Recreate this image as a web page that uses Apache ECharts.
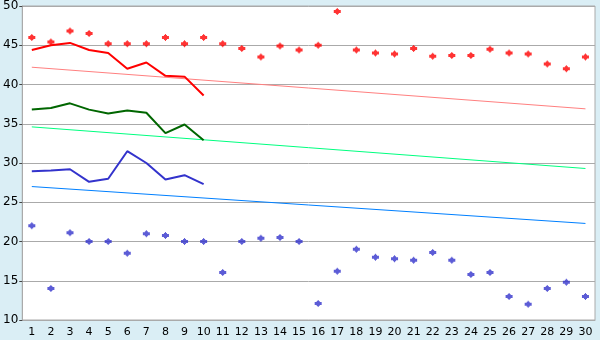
<!DOCTYPE html>
<html><head><meta charset="utf-8">
<script src="https://cdn.jsdelivr.net/npm/echarts@6/dist/echarts.min.js"></script>
<style>html,body{margin:0;padding:0;background:#daeef5;}#c{width:600px;height:340px;}</style>
</head><body><div id="c"></div>
<script>
var categories = ["1","2","3","4","5","6","7","8","9","10","11","12","13","14","15","16","17","18","19","20","21","22","23","24","25","26","27","28","29","30"];
var redPoints = [46.0,45.4,46.8,46.5,45.2,45.2,45.2,46.0,45.2,46.0,45.2,44.6,43.5,44.9,44.4,45.0,49.3,44.4,44.0,43.9,44.6,43.6,43.7,43.7,44.5,44.0,43.9,42.6,42.0,43.5];
var bluePoints = [22.0,14.0,21.1,20.0,20.0,18.5,21.0,20.75,20.0,20.0,16.05,20.0,20.4,20.5,20.0,12.1,16.2,19.0,18.0,17.8,17.6,18.6,17.6,15.8,16.05,13.0,12.0,14.0,14.8,13.0];
var redLine = [44.4,45.0,45.3,44.4,44.0,42.0,42.8,41.1,41.0,38.6];
var greenLine = [36.8,37.0,37.6,36.8,36.3,36.7,36.4,33.8,34.9,32.9];
var blueLine = [28.96,29.05,29.2,27.6,28.0,31.5,30.0,27.9,28.45,27.3];
var redTrend = [42.2, 36.9];   // values at day 1 and day 30
var greenTrend = [34.6, 29.3];
var blueTrend = [27.0, 22.3];
var yTicks = {min:10, max:50, interval:5};

function trendData(ends){
  var d = categories.map(function(){return null;});
  d[0] = ends[0]; d[categories.length-1] = ends[1];
  return d;
}
var marker = 'path://M3,0 H4 V1 H5 V2 H7 V5 H5 V6 H4 V7 H3 V6 H2 V5 H0 V2 H2 V1 H3 Z';
var chart = echarts.init(document.getElementById('c'), null, {renderer:'canvas'});
var font = 'DejaVu Sans';
chart.setOption({
  backgroundColor:'#daeef5',
  animation:false,
  grid:{left:20,right:5,top:5,bottom:20,show:true,backgroundColor:'#ffffff',borderColor:'#aaaaaa',borderWidth:1},
  xAxis:{type:'category',data:categories,boundaryGap:true,
    axisLine:{lineStyle:{color:'#aaaaaa'}},
    axisTick:{alignWithLabel:true,length:6,lineStyle:{color:'#444444'}},
    axisLabel:{color:'#000',fontFamily:font,fontSize:11,margin:7,interval:0},
    splitLine:{show:false}},
  yAxis:{type:'value',min:yTicks.min,max:yTicks.max,interval:yTicks.interval,
    axisLine:{show:true,lineStyle:{color:'#aaaaaa'}},
    axisTick:{show:true,length:3,lineStyle:{color:'#444444'}},
    axisLabel:{color:'#000',fontFamily:font,fontSize:12,margin:4},
    splitLine:{lineStyle:{color:'#aaaaaa',width:1}}},
  series:[
    {type:'line',data:trendData(redTrend),connectNulls:true,showSymbol:false,symbol:'none',lineStyle:{color:'#ff8080',width:1},silent:true},
    {type:'line',data:trendData(greenTrend),connectNulls:true,showSymbol:false,symbol:'none',lineStyle:{color:'#00ff80',width:1},silent:true},
    {type:'line',data:trendData(blueTrend),connectNulls:true,showSymbol:false,symbol:'none',lineStyle:{color:'#0080ff',width:1},silent:true},
    {type:'line',data:redLine,symbol:'none',lineStyle:{color:'#ff0000',width:2},silent:true},
    {type:'line',data:greenLine,symbol:'none',lineStyle:{color:'#006600',width:2},silent:true},
    {type:'line',data:blueLine,symbol:'none',lineStyle:{color:'#3333cc',width:2},silent:true},
    {type:'scatter',data:redPoints,symbol:marker,symbolSize:7,itemStyle:{color:'#ff0000'},silent:true},
    {type:'scatter',data:bluePoints,symbol:marker,symbolSize:7,itemStyle:{color:'#3333cc'},silent:true}
  ]
});
</script></body></html>
